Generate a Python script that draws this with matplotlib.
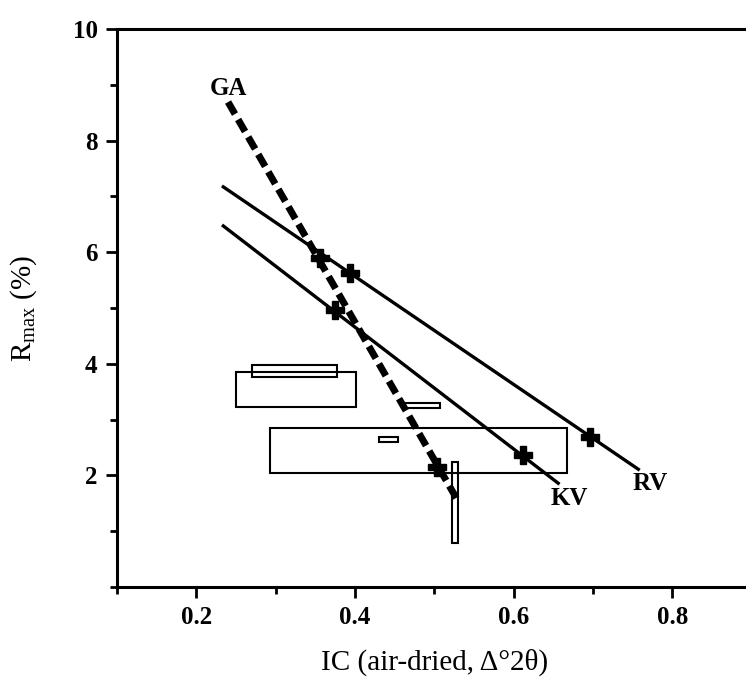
import matplotlib.pyplot as plt
from matplotlib.patches import Rectangle
from matplotlib.ticker import MultipleLocator

plt.rcParams['font.family'] = ['Liberation Serif', 'DejaVu Serif']

# trend lines (IC vs Rmax)
ga_x = [0.240, 0.529]
ga_y = [8.69, 1.56]
rv_x = [0.234, 0.757]
rv_y = [7.17, 2.11]
kv_x = [0.234, 0.656]
kv_y = [6.47, 1.86]

# sample points on the lines
pt_x = [0.356, 0.394, 0.375, 0.612, 0.696, 0.503]
pt_y = [5.90, 5.63, 4.96, 2.37, 2.69, 2.15]

# ranges drawn as open boxes: x0, x1, y0, y1
box_x0 = [0.250, 0.270, 0.463, 0.293, 0.430, 0.522]
box_x1 = [0.401, 0.377, 0.507, 0.667, 0.454, 0.530]
box_y0 = [3.23, 3.76, 3.21, 2.04, 2.60, 0.79]
box_y1 = [3.85, 3.98, 3.30, 2.85, 2.69, 2.24]

# line names
names = ['GA', 'KV', 'RV']
name_x = [0.240, 0.670, 0.772]
name_y = [8.93, 1.59, 1.86]

fig = plt.figure(figsize=(7.46, 6.89), dpi=100)
ax = fig.add_axes([0.1568, 0.148, 0.851, 0.810])

for x0, x1, y0, y1 in zip(box_x0, box_x1, box_y0, box_y1):
    ax.add_patch(Rectangle((x0, y0), x1 - x0, y1 - y0, fill=False,
                           edgecolor='black', linewidth=1.5))

ax.plot(rv_x, rv_y, color='black', linewidth=2.4)
ax.plot(kv_x, kv_y, color='black', linewidth=2.4)
ax.plot(ga_x, ga_y, color='black', linewidth=5, dashes=(2, 0.9),
        dash_capstyle='butt')
ax.plot(pt_x, pt_y, linestyle='none', marker='P', markersize=13,
        color='black')

for n, x, y in zip(names, name_x, name_y):
    ax.text(x, y, n, fontsize=18, fontweight='bold', ha='center', va='center')

ax.set_xlim(0.1, 0.9)
ax.set_ylim(0, 10)
ax.xaxis.set_minor_locator(MultipleLocator(0.1))
ax.yaxis.set_minor_locator(MultipleLocator(1))
ax.set_xticks([0.2, 0.4, 0.6, 0.8])
ax.set_xticklabels(['0.2', '0.4', '0.6', '0.8'])
ax.set_yticks([2, 4, 6, 8, 10])
ax.set_yticklabels(['2', '4', '6', '8', '10'])
ax.tick_params(which='major', direction='out', length=8, width=2,
               labelsize=18, pad=6)
ax.tick_params(which='minor', direction='out', length=5, width=2)
for lab in ax.get_xticklabels() + ax.get_yticklabels():
    lab.set_fontweight('bold')

for side in ['left', 'bottom', 'top']:
    ax.spines[side].set_linewidth(2.2)
ax.spines['right'].set_visible(False)

ax.set_xlabel('IC (air-dried, \u0394\u00b02\u03b8)', fontsize=21, labelpad=14)
ax.set_ylabel(r'R$_{\mathregular{max}}$ (%)', fontsize=21, labelpad=24)

fig.savefig('out.png', dpi=100)
